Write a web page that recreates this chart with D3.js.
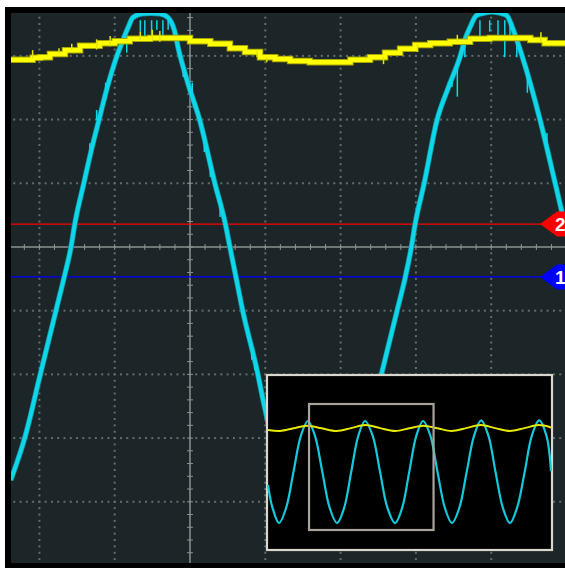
<!DOCTYPE html>
<html>
<head>
<meta charset="utf-8">
<script src="https://cdn.jsdelivr.net/npm/d3@7"></script>
<style>
  html, body { margin: 0; padding: 0; background: #ffffff; }
  svg { display: block; }
</style>
</head>
<body>
<svg id="scope" width="565" height="568"></svg>
<script>
// ---- Channel 2 (cyan) acquisition, in screen divisions (time, level) ----
const ch2Time  = [-2.38,-2.19,-1.99,-1.78,-1.67,-1.58,-1.53,-1.41,-1.31,-1.21,-1.10,-0.97,-0.89,-0.82,-0.76,-0.64,-0.52,-0.40,-0.29,-0.21,-0.15,-0.03,0.13,0.33,0.47,0.53,0.61,0.70,0.90,0.97,1.20,1.46,1.74,2.02,2.26,2.55,2.75,2.86,2.94,2.99,3.11,3.28,3.43,3.59,3.65,3.72,3.80,3.90,4.01,4.12,4.21,4.28,4.34,4.41,4.65,4.85,4.95,5.05];
const ch2Level = [-3.66,-2.98,-2.01,-1.00,-0.47,0,0.36,1.00,1.52,1.99,2.50,3.00,3.25,3.45,3.60,3.66,3.67,3.66,3.60,3.41,3.09,2.58,1.99,1.00,0.36,0,-0.47,-1.00,-1.99,-2.40,-3.50,-4.29,-4.52,-4.21,-3.34,-1.96,-1.00,-0.47,0,0.36,1.00,1.99,2.50,3.00,3.25,3.45,3.63,3.67,3.69,3.67,3.63,3.45,3.25,3.00,1.99,1.00,0.50,0.11];

// Noise excursions on channel 2 (time, upper level, lower level)
const ch2SpikeTime = [-0.84,-1.12,-1.24,-1.33,-0.66,-0.60,-0.51,-0.44,-0.36,-0.29,-0.09,0.03,0.19,0.27,0.40,0.64,0.82,0.86,2.86,3.48,3.55,3.65,3.85,3.98,4.09,4.18,4.25,4.34,4.48,4.74];
const ch2SpikeHi   = [3.30,2.58,2.15,1.63,3.56,3.56,3.56,3.56,3.56,3.56,2.89,2.58,1.68,1.26,0.63,-0.63,-1.51,-1.77,-0.36,2.67,2.83,3.25,3.56,3.56,3.56,3.56,3.56,3.25,2.83,1.79];
const ch2SpikeLo   = [3.05,2.31,1.99,1.41,3.38,3.30,3.25,3.41,3.28,3.41,2.67,2.36,1.49,1.10,0.47,-0.72,-1.77,-1.93,-0.57,2.51,2.36,2.98,3.30,3.38,3.25,2.98,3.25,2.98,2.42,1.63];

// ---- Channel 1 (yellow) acquisition ----
const ch1Time  = [-2.38,-2.19,-2.09,-1.99,-1.86,-1.66,-1.46,-1.20,-1.00,-0.80,-0.53,-0.27,0,0.27,0.53,0.73,0.93,1.13,1.33,1.59,1.86,2.13,2.39,2.59,2.79,2.99,3.19,3.45,3.72,3.98,4.25,4.52,4.71,4.98];
const ch1Level = [2.94,2.94,2.97,2.98,3.03,3.09,3.16,3.20,3.23,3.27,3.28,3.28,3.23,3.19,3.12,3.06,2.98,2.95,2.92,2.90,2.90,2.94,2.98,3.05,3.11,3.17,3.20,3.22,3.27,3.28,3.28,3.25,3.20,3.17];

const ch1SpikeTime = [-2.09,-1.74,-1.57,-1.24,-1.06,-0.66,-0.50,-0.40,0.89,1.02,2.57,3.02,3.55,4.66];
const ch1SpikeHi   = [3.09,3.12,3.19,3.26,3.31,3.38,3.41,3.39,3.09,2.98,2.98,3.19,3.33,3.37];
const ch1SpikeLo   = [2.96,3.04,3.09,3.10,3.15,3.25,3.24,3.22,2.98,2.90,2.87,3.06,3.23,3.21];

// ---- Zoom overview window (whole record) ----
const ovTime = [0.00,0.15,0.39,0.64,0.90,1.16,1.41,1.66,1.92,2.18,2.44,2.69,2.94,3.19,3.43,3.70,3.96,4.22,4.49,4.74,4.99,5.24,5.48,5.74,5.99,6.25,6.50,6.76,7.02,7.28,7.53,7.79,8.04,8.30,8.55,8.80,9.07,9.32,9.58,9.84,10.00];
const ovCh2  = [-1.04,-2.05,-2.80,-2.10,-0.44,1.23,1.92,1.23,-0.44,-2.10,-2.80,-2.10,-0.44,1.23,1.92,1.23,-0.44,-2.10,-2.80,-2.10,-0.44,1.23,1.92,1.23,-0.44,-2.10,-2.80,-2.10,-0.44,1.23,1.95,1.23,-0.44,-2.10,-2.80,-2.10,-0.44,1.23,1.95,1.23,-0.40];
const ovCh1Time = [0.00,0.42,0.90,1.37,1.90,2.43,2.93,3.44,3.96,4.49,4.99,5.49,5.99,6.49,7.00,7.52,8.03,8.55,9.06,9.57,10.00];
const ovCh1     = [1.50,1.46,1.58,1.70,1.58,1.46,1.59,1.73,1.59,1.46,1.58,1.70,1.58,1.46,1.59,1.73,1.59,1.46,1.59,1.73,1.62];
// Zoom window position inside the overview (time span)
const ovWindow = [1.45, 5.85];

// ---- Graticule ----
const vGrid = [-2, -1, 1, 2, 3, 4];
const hGrid = [3, 2, 1, -1, -2, -3, -4];

// ---- Reference level markers ----
const markerLabels = ["2", "1"];
const markerLevels = [0.36, -0.47];
const markerColors = ["#ff0000", "#0000ff"];

// ----------------------------------------------------------------------
const svg = d3.select("#scope");
const W = 565, H = 568;
const plot = { left: 11, right: 565, top: 13, bottom: 563 };

const x = d3.scaleLinear().domain([-2.377, 4.980]).range([plot.left, plot.right]);
const y = d3.scaleLinear().domain([-4.961, 3.673]).range([plot.bottom, plot.top]);

// Bezel
svg.append("rect").attr("x", 0).attr("y", 0).attr("width", W).attr("height", H).attr("fill", "#ffffff");
svg.append("rect").attr("x", 5).attr("y", 7).attr("width", W - 5).attr("height", H - 7).attr("fill", "#000000");
svg.append("rect")
  .attr("x", plot.left).attr("y", plot.top)
  .attr("width", plot.right - plot.left).attr("height", plot.bottom - plot.top)
  .attr("fill", "#1c2628");

svg.append("defs").append("clipPath").attr("id", "screen")
  .append("rect")
  .attr("x", plot.left).attr("y", plot.top)
  .attr("width", plot.right - plot.left).attr("height", plot.bottom - plot.top);

const screen = svg.append("g").attr("clip-path", "url(#screen)");

// Dotted graticule
const grid = screen.append("g").attr("fill", "#646d6b");
const [t0, t1] = x.domain();
const [v0, v1] = y.domain();
vGrid.forEach(t => {
  d3.range(Math.ceil(v0 * 10), Math.floor(v1 * 10) + 1).forEach(k => {
    grid.append("rect").attr("x", x(t) - 1).attr("y", y(k / 10) - 1).attr("width", 2).attr("height", 2);
  });
});
hGrid.forEach(v => {
  d3.range(Math.ceil(t0 * 12), Math.floor(t1 * 12) + 1).forEach(k => {
    grid.append("rect").attr("x", x(k / 12) - 1).attr("y", y(v) - 1).attr("width", 2).attr("height", 2);
  });
});

// Centre axes with minor ticks
const axes = screen.append("g").attr("stroke", "#8b9391");
axes.append("line").attr("x1", plot.left).attr("x2", plot.right).attr("y1", y(0)).attr("y2", y(0)).attr("stroke-width", 1.5);
axes.append("line").attr("x1", x(0)).attr("x2", x(0)).attr("y1", plot.top).attr("y2", plot.bottom).attr("stroke-width", 1.5);
d3.range(Math.ceil(t0 * 5), Math.floor(t1 * 5) + 1).forEach(k => {
  axes.append("line").attr("x1", x(k / 5)).attr("x2", x(k / 5)).attr("y1", y(0) - 3).attr("y2", y(0) + 3).attr("stroke-width", 1);
});
d3.range(Math.ceil(v0 * 5), Math.floor(v1 * 5) + 1).forEach(k => {
  axes.append("line").attr("x1", x(0) - 3).attr("x2", x(0) + 3).attr("y1", y(k / 5)).attr("y2", y(k / 5)).attr("stroke-width", 1);
});

// Reference level lines
markerLevels.forEach((v, i) => {
  screen.append("line")
    .attr("x1", plot.left).attr("x2", 541)
    .attr("y1", y(v)).attr("y2", y(v))
    .attr("stroke", markerColors[i]).attr("stroke-width", 1.3);
});

// Channel 2 trace
const ch2 = ch2Time.map((t, i) => [t, ch2Level[i]]);
const line = d3.line().x(d => x(d[0])).y(d => y(d[1])).curve(d3.curveMonotoneX);
screen.append("path").attr("d", line(ch2))
  .attr("fill", "none").attr("stroke", "#0f8f9c").attr("stroke-width", 5.5).attr("stroke-linejoin", "round");
screen.append("path").attr("d", line(ch2))
  .attr("fill", "none").attr("stroke", "#0fd6e8").attr("stroke-width", 4).attr("stroke-linejoin", "round");
screen.append("g").selectAll("line").data(ch2SpikeTime).join("line")
  .attr("x1", d => x(d)).attr("x2", d => x(d))
  .attr("y1", (d, i) => y(ch2SpikeHi[i])).attr("y2", (d, i) => y(ch2SpikeLo[i]))
  .attr("stroke", "#0fd6e8").attr("stroke-width", 1.5);

// Channel 1 trace
const ch1 = ch1Time.map((t, i) => [t, ch1Level[i]]);
const stepLine = d3.line().x(d => x(d[0])).y(d => y(d[1])).curve(d3.curveStepAfter);
screen.append("path").attr("d", stepLine(ch1))
  .attr("fill", "none").attr("stroke", "#a6a600").attr("stroke-width", 6.5);
screen.append("path").attr("d", stepLine(ch1))
  .attr("fill", "none").attr("stroke", "#ffff00").attr("stroke-width", 4.5);
screen.append("g").selectAll("line").data(ch1SpikeTime).join("line")
  .attr("x1", d => x(d)).attr("x2", d => x(d))
  .attr("y1", (d, i) => y(ch1SpikeHi[i])).attr("y2", (d, i) => y(ch1SpikeLo[i]))
  .attr("stroke", "#e6e600").attr("stroke-width", 1.5);

// ---- Overview inset ----
const inset = { left: 266, right: 553, top: 374, bottom: 551 };
const ix = d3.scaleLinear().domain([0, 10]).range([268, 551]);
const iy = d3.scaleLinear().domain([-4, 4]).range([549, 376]);
const ov = svg.append("g");
ov.append("rect")
  .attr("x", inset.left + 1).attr("y", inset.top + 1)
  .attr("width", inset.right - inset.left - 2).attr("height", inset.bottom - inset.top - 2)
  .attr("fill", "#000000").attr("stroke", "#d9d6cd").attr("stroke-width", 2.2);
const ovLine = d3.line().x(d => ix(d[0])).y(d => iy(d[1])).curve(d3.curveCatmullRom.alpha(0.5));
ov.append("path").attr("d", ovLine(ovTime.map((t, i) => [t, ovCh2[i]])))
  .attr("fill", "none").attr("stroke", "#14c9dc").attr("stroke-width", 2.2);
ov.append("path").attr("d", ovLine(ovCh1Time.map((t, i) => [t, ovCh1[i]])))
  .attr("fill", "none").attr("stroke", "#e8e800").attr("stroke-width", 2);
ov.append("rect")
  .attr("x", ix(ovWindow[0])).attr("y", 404)
  .attr("width", ix(ovWindow[1]) - ix(ovWindow[0])).attr("height", 126)
  .attr("fill", "none").attr("stroke", "#a9a59c").attr("stroke-width", 2.2);

// ---- Level marker flags ----
markerLevels.forEach((v, i) => {
  const yy = y(v);
  const g = svg.append("g");
  g.append("path")
    .attr("d", `M540,${yy} L557,${yy - 12.5} L566,${yy - 12.5} L566,${yy + 12.5} L557,${yy + 12.5} Z`)
    .attr("fill", markerColors[i]);
  g.append("text")
    .attr("x", 555).attr("y", yy + 7)
    .attr("fill", "#ffffff")
    .attr("font-family", "Liberation Sans, Arial, sans-serif")
    .attr("font-weight", "bold").attr("font-size", 19)
    .text(markerLabels[i]);
});
</script>
</body>
</html>
